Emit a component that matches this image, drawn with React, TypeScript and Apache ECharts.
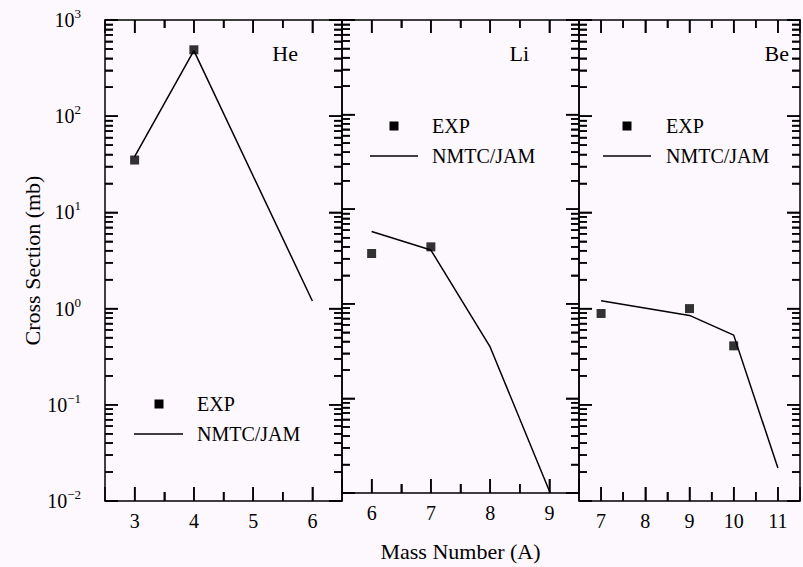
import React, { useEffect, useRef } from 'react';
import * as echarts from 'echarts';

// ---- data ----
const panelNames = ['He', 'Li', 'Be'];
const xMins = [2.5, 5.5, 6.5];
const xMaxs = [6.5, 9.5, 11.5];
const yMin = 0.01;
const yMax = 1000;
const yMinExp = -2;
const yMaxExp = 3;

const heMassExp = [3, 4];
const heXsExp = [35, 490];
const heMassCalc = [3, 4, 6];
const heXsCalc = [38, 480, 1.2];

const liMassExp = [6, 7];
const liXsExp = [3.4, 4.0];
const liMassCalc = [6, 7, 8, 9];
const liXsCalc = [5.8, 3.7, 0.35, 0.0105];

const beMassExp = [7, 9, 10];
const beXsExp = [0.89, 1.0, 0.41];
const beMassCalc = [7, 9, 10, 11];
const beXsCalc = [1.21, 0.85, 0.53, 0.022];

const expName = 'EXP';
const calcName = 'NMTC/JAM';
const xTitle = 'Mass Number (A)';
const yTitle = 'Cross Section (mb)';

// ---- layout ----
const FONT = 'Liberation Serif';
const BG = '#fdf8fd';
const GRID_LEFT = 105;
const GRID_TOP = 20;
const PANEL_W = 237;
const GRID_H = 481;

const pairs = (xs: number[], ys: number[]) => xs.map((x, i) => [x, ys[i]]);

const expData = [pairs(heMassExp, heXsExp), pairs(liMassExp, liXsExp), pairs(beMassExp, beXsExp)];
const calcData = [pairs(heMassCalc, heXsCalc), pairs(liMassCalc, liXsCalc), pairs(beMassCalc, beXsCalc)];

// legend placement per panel: marker centre, line, text start
const legendPos = [
  { mx: 159, my: 404, lx1: 134, lx2: 183, ly: 434, tx: 197 },
  { mx: 394, my: 126, lx1: 370, lx2: 418, ly: 156, tx: 432 },
  { mx: 627, my: 126, lx1: 603, lx2: 651, ly: 156, tx: 666 },
];
const labelPos = [
  { x: 298, y: 53 },
  { x: 529, y: 53 },
  { x: 789, y: 53 },
];

const black = '#000';
const lineW = 1.5;

const mkLine = () => ({ show: true, onZero: false, lineStyle: { color: black, width: lineW } });
const mkTick = (len: number) => ({ show: true, inside: true, length: len, lineStyle: { color: black, width: lineW } });
const mkMinor = (split: number, len: number) => ({
  show: true,
  splitNumber: split,
  length: len,
  lineStyle: { color: black, width: lineW },
});

// tick positions (axis decoration): [value, 2 = major / 1 = minor, 1 = x tick / 2 = y tick]
function tickData(i: number): number[][] {
  const d: number[][] = [];
  for (let v = Math.ceil(xMins[i]); v <= Math.floor(xMaxs[i]); v++) d.push([v, 2, 1]);
  for (let v = Math.ceil(xMins[i]) + 0.5; v < xMaxs[i]; v += 1) d.push([v, 1, 1]);
  for (let e = yMinExp; e <= yMaxExp; e++) d.push([Math.pow(10, e), 2, 2]);
  for (let e = yMinExp; e < yMaxExp; e++) {
    for (let m = 2; m <= 9; m++) d.push([m * Math.pow(10, e), 1, 2]);
  }
  return d;
}

function tickRenderer(i: number) {
  return (params: any, api: any) => {
    const v = api.value(0);
    const major = api.value(1) === 2;
    const orient = api.value(2);
    const st = { stroke: black, lineWidth: lineW };
    if (orient === 1) {
      const b = api.coord([v, yMin]);
      const t = api.coord([v, yMax]);
      const lb = major ? 14 : 9;
      const lt = major ? 13 : 8;
      return {
        type: 'group',
        children: [
          { type: 'line', shape: { x1: b[0], y1: b[1], x2: b[0], y2: b[1] - lb }, style: st },
          { type: 'line', shape: { x1: t[0], y1: t[1], x2: t[0], y2: t[1] + lt }, style: st },
        ],
      };
    }
    const l = api.coord([xMins[i], v]);
    const r = api.coord([xMaxs[i], v]);
    const len = major ? 13 : 8;
    return {
      type: 'group',
      children: [
        { type: 'line', shape: { x1: l[0], y1: l[1], x2: l[0] + len, y2: l[1] }, style: st },
        { type: 'line', shape: { x1: r[0], y1: r[1], x2: r[0] - len, y2: r[1] }, style: st },
      ],
    };
  };
}

function buildOption(): any {
  const grids = panelNames.map((_, i) => ({
    left: GRID_LEFT + i * PANEL_W,
    top: GRID_TOP,
    width: PANEL_W,
    height: GRID_H,
  }));

  const xAxes: any[] = [];
  const yAxes: any[] = [];
  panelNames.forEach((_, i) => {
    const bottom: any = {
      type: 'value',
      gridIndex: i,
      position: 'bottom',
      min: xMins[i],
      max: xMaxs[i],
      splitLine: { show: false },
      axisLine: mkLine(),
      axisTick: mkTick(14),
      minorTick: mkMinor(2, 9),
      axisLabel: {
        show: true,
        color: black,
        fontSize: 20,
        fontFamily: FONT,
        margin: 10,
        formatter: (v: number) => (Number.isInteger(v) ? String(v) : ''),
      },
    };
    if (i === 1) {
      bottom.name = xTitle;
      bottom.nameLocation = 'middle';
      bottom.nameGap = 47;
      bottom.nameTextStyle = { color: black, fontSize: 22, fontFamily: FONT };
    }
    xAxes.push(bottom);
    xAxes.push({
      type: 'value',
      gridIndex: i,
      position: 'top',
      min: xMins[i],
      max: xMaxs[i],
      splitLine: { show: false },
      axisLine: mkLine(),
      axisTick: mkTick(13),
      minorTick: mkMinor(2, 8),
      axisLabel: { show: false },
    });

    const left: any = {
      type: 'log',
      gridIndex: i,
      position: 'left',
      min: yMin,
      max: yMax,
      splitLine: { show: false },
      axisLine: mkLine(),
      axisTick: mkTick(13),
      minorTick: mkMinor(9, 8),
      axisLabel: { show: false },
    };
    if (i === 0) {
      left.axisLabel = {
        show: true,
        margin: 24,
        formatter: (v: number) => {
          const e = Math.round(Math.log10(v));
          const s = e < 0 ? '\u2212' + -e : String(e);
          return `{b|10}{s|${s}}`;
        },
        rich: {
          b: { fontSize: 20, fontFamily: FONT, color: black, lineHeight: 26 },
          s: { fontSize: 13, fontFamily: FONT, color: black, verticalAlign: 'top' },
        },
      };
      left.name = yTitle;
      left.nameLocation = 'middle';
      left.nameRotate = 90;
      left.nameGap = 62;
      left.nameTextStyle = { color: black, fontSize: 22, fontFamily: FONT };
    }
    yAxes.push(left);
    yAxes.push({
      type: 'log',
      gridIndex: i,
      position: 'right',
      min: yMin,
      max: yMax,
      splitLine: { show: false },
      axisLine: mkLine(),
      axisTick: mkTick(13),
      minorTick: mkMinor(9, 8),
      axisLabel: { show: false },
    });
  });

  const series: any[] = [];
  panelNames.forEach((_, i) => {
    series.push({
      type: 'custom',
      name: 'ticks' + i,
      xAxisIndex: 2 * i,
      yAxisIndex: 2 * i,
      clip: false,
      silent: true,
      data: tickData(i),
      renderItem: tickRenderer(i),
    });
    series.push({
      type: 'scatter',
      name: expName,
      xAxisIndex: 2 * i,
      yAxisIndex: 2 * i,
      symbol: 'rect',
      symbolSize: 9,
      itemStyle: { color: black },
      data: expData[i],
    });
    series.push({
      type: 'line',
      name: calcName,
      xAxisIndex: 2 * i,
      yAxisIndex: 2 * i,
      showSymbol: false,
      symbol: 'none',
      lineStyle: { color: black, width: lineW },
      data: calcData[i],
    });
  });

  const graphics: any[] = [];
  panelNames.forEach((name, i) => {
    const lp = legendPos[i];
    graphics.push({
      type: 'rect',
      shape: { x: lp.mx - 4.5, y: lp.my - 4.5, width: 9, height: 9 },
      style: { fill: black },
    });
    graphics.push({
      type: 'line',
      shape: { x1: lp.lx1, y1: lp.ly, x2: lp.lx2, y2: lp.ly },
      style: { stroke: black, lineWidth: lineW },
    });
    graphics.push({
      type: 'text',
      x: lp.tx,
      y: lp.my,
      style: { text: expName, fontSize: 20, fontFamily: FONT, fill: black, align: 'left', verticalAlign: 'middle' },
    });
    graphics.push({
      type: 'text',
      x: lp.tx,
      y: lp.ly,
      style: { text: calcName, fontSize: 20, fontFamily: FONT, fill: black, align: 'left', verticalAlign: 'middle' },
    });
    graphics.push({
      type: 'text',
      x: labelPos[i].x,
      y: labelPos[i].y,
      style: { text: name, fontSize: 22, fontFamily: FONT, fill: black, align: 'right', verticalAlign: 'middle' },
    });
  });

  return {
    animation: false,
    backgroundColor: BG,
    grid: grids,
    xAxis: xAxes,
    yAxis: yAxes,
    series,
    graphic: graphics,
  };
}

export default function App() {
  const ref = useRef<HTMLDivElement>(null);
  useEffect(() => {
    document.body.style.margin = '0';
    if (!ref.current) return;
    const chart = echarts.init(ref.current, null, { renderer: 'svg' });
    chart.setOption(buildOption());
    return () => chart.dispose();
  }, []);
  return <div ref={ref} style={{ width: 803, height: 567 }} />;
}
